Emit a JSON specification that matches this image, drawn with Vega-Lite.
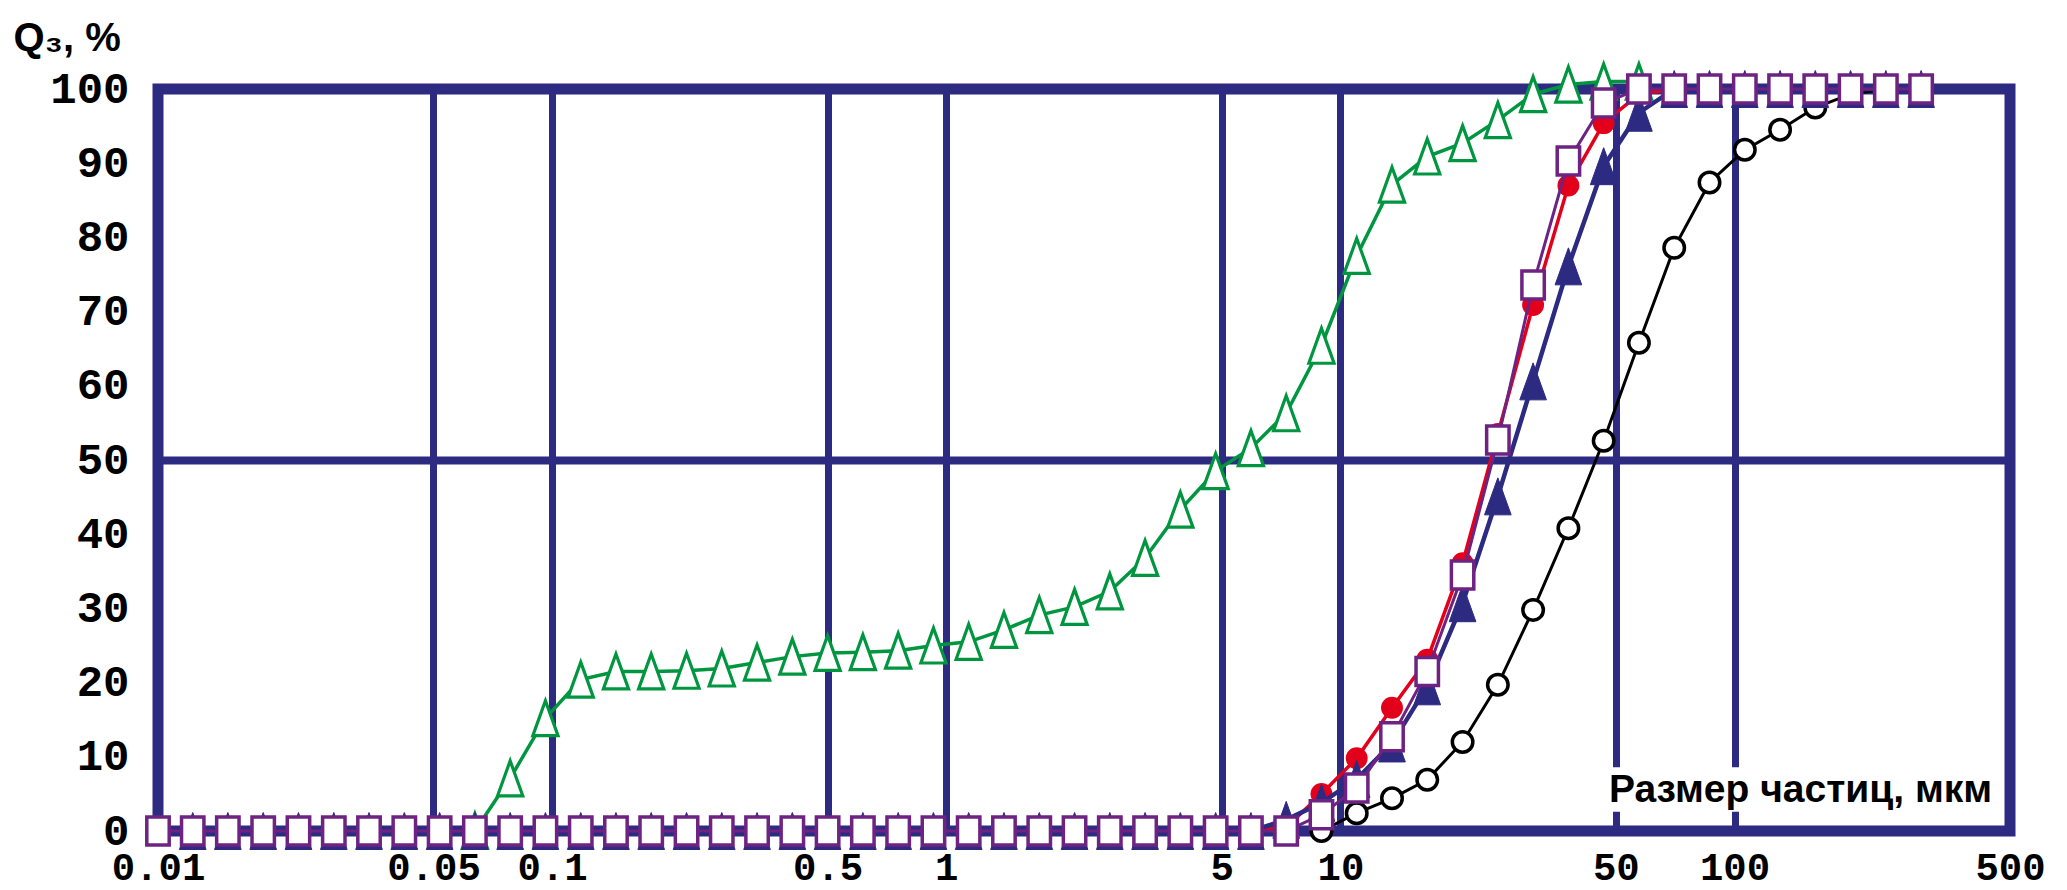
{
  "$schema": "https://vega.github.io/schema/vega-lite/v6.json",
  "width": 1852,
  "height": 742,
  "autosize": {"type": "none"},
  "padding": {"left": 158, "top": 89, "right": 57, "bottom": 59},
  "background": "white",
  "config": {"view": {"stroke": "#2d2a82", "strokeWidth": 11, "fill": "white"}},
  "data": {"values": [
    {"series":"A","d":0.06368,"q":0},{"series":"A","d":0.07826,"q":7.1},{"series":"A","d":0.09616,"q":15.2},{"series":"A","d":0.1182,"q":20.4},{"series":"A","d":0.1452,"q":21.5},{"series":"A","d":0.1784,"q":21.5},{"series":"A","d":0.2193,"q":21.6},{"series":"A","d":0.2694,"q":21.9},{"series":"A","d":0.3311,"q":22.7},{"series":"A","d":0.4069,"q":23.5},{"series":"A","d":0.5,"q":24.0},{"series":"A","d":0.6144,"q":24.1},{"series":"A","d":0.7551,"q":24.3},{"series":"A","d":0.9279,"q":25.0},{"series":"A","d":1.14,"q":25.5},{"series":"A","d":1.401,"q":27.1},{"series":"A","d":1.722,"q":29.1},{"series":"A","d":2.116,"q":30.2},{"series":"A","d":2.6,"q":32.3},{"series":"A","d":3.195,"q":36.8},{"series":"A","d":3.926,"q":43.3},{"series":"A","d":4.825,"q":48.5},{"series":"A","d":5.929,"q":51.6},{"series":"A","d":7.286,"q":56.3},{"series":"A","d":8.954,"q":65.4},{"series":"A","d":11.0,"q":77.5},{"series":"A","d":13.52,"q":87.1},{"series":"A","d":16.61,"q":90.9},{"series":"A","d":20.42,"q":92.7},{"series":"A","d":25.09,"q":95.8},{"series":"A","d":30.83,"q":99.3},{"series":"A","d":37.89,"q":100.6},{"series":"A","d":46.56,"q":101},{"series":"A","d":57.21,"q":101},
    {"series":"E","d":8.954,"q":0},{"series":"E","d":11.0,"q":2.4},{"series":"E","d":13.52,"q":4.4},{"series":"E","d":16.61,"q":6.9},{"series":"E","d":20.42,"q":12.0},{"series":"E","d":25.09,"q":19.7},{"series":"E","d":30.83,"q":29.8},{"series":"E","d":37.89,"q":40.8},{"series":"E","d":46.56,"q":52.6},{"series":"E","d":57.21,"q":65.8},{"series":"E","d":70.31,"q":78.6},{"series":"E","d":86.41,"q":87.4},{"series":"E","d":106.2,"q":91.8},{"series":"E","d":130.5,"q":94.5},{"series":"E","d":160.3,"q":97.5},{"series":"E","d":197.0,"q":99.3},{"series":"E","d":242.1,"q":100},{"series":"E","d":297.5,"q":100},
    {"series":"B","d":5.929,"q":0},{"series":"B","d":7.286,"q":0.5},{"series":"B","d":8.954,"q":5.0},{"series":"B","d":11.0,"q":9.8},{"series":"B","d":13.52,"q":16.6},{"series":"B","d":16.61,"q":23.1},{"series":"B","d":20.42,"q":36.1},{"series":"B","d":25.09,"q":53.5},{"series":"B","d":30.83,"q":70.9},{"series":"B","d":37.89,"q":87.0},{"series":"B","d":46.56,"q":95.4},{"series":"B","d":57.21,"q":99.3},{"series":"B","d":70.31,"q":100},{"series":"B","d":86.41,"q":100},
    {"series":"C","d":0.01225,"q":0},{"series":"C","d":0.01504,"q":0},{"series":"C","d":0.01849,"q":0},{"series":"C","d":0.02272,"q":0},{"series":"C","d":0.02793,"q":0},{"series":"C","d":0.03431,"q":0},{"series":"C","d":0.04217,"q":0},{"series":"C","d":0.05183,"q":0},{"series":"C","d":0.06368,"q":0},{"series":"C","d":0.07826,"q":0},{"series":"C","d":0.09616,"q":0},{"series":"C","d":0.1182,"q":0},{"series":"C","d":0.1452,"q":0},{"series":"C","d":0.1784,"q":0},{"series":"C","d":0.2193,"q":0},{"series":"C","d":0.2694,"q":0},{"series":"C","d":0.3311,"q":0},{"series":"C","d":0.4069,"q":0},{"series":"C","d":0.5,"q":0},{"series":"C","d":0.6144,"q":0},{"series":"C","d":0.7551,"q":0},{"series":"C","d":0.9279,"q":0},{"series":"C","d":1.14,"q":0},{"series":"C","d":1.401,"q":0},{"series":"C","d":1.722,"q":0},{"series":"C","d":2.116,"q":0},{"series":"C","d":2.6,"q":0},{"series":"C","d":3.195,"q":0},{"series":"C","d":3.926,"q":0},{"series":"C","d":4.825,"q":0},{"series":"C","d":5.929,"q":0},{"series":"C","d":7.286,"q":1.5},{"series":"C","d":8.954,"q":3.8},{"series":"C","d":11.0,"q":7.0},{"series":"C","d":13.52,"q":11.8},{"series":"C","d":16.61,"q":19.5},{"series":"C","d":20.42,"q":30.7},{"series":"C","d":25.09,"q":45.1},{"series":"C","d":30.83,"q":60.6},{"series":"C","d":37.89,"q":76.1},{"series":"C","d":46.56,"q":89.6},{"series":"C","d":57.21,"q":96.8},{"series":"C","d":70.31,"q":100},{"series":"C","d":86.41,"q":100},{"series":"C","d":106.2,"q":100},{"series":"C","d":130.5,"q":100},{"series":"C","d":160.3,"q":100},{"series":"C","d":197.0,"q":100},{"series":"C","d":242.1,"q":100},{"series":"C","d":297.5,"q":100},
    {"series":"D","d":0.01,"q":0},{"series":"D","d":0.01225,"q":0},{"series":"D","d":0.01504,"q":0},{"series":"D","d":0.01849,"q":0},{"series":"D","d":0.02272,"q":0},{"series":"D","d":0.02793,"q":0},{"series":"D","d":0.03431,"q":0},{"series":"D","d":0.04217,"q":0},{"series":"D","d":0.05183,"q":0},{"series":"D","d":0.06368,"q":0},{"series":"D","d":0.07826,"q":0},{"series":"D","d":0.09616,"q":0},{"series":"D","d":0.1182,"q":0},{"series":"D","d":0.1452,"q":0},{"series":"D","d":0.1784,"q":0},{"series":"D","d":0.2193,"q":0},{"series":"D","d":0.2694,"q":0},{"series":"D","d":0.3311,"q":0},{"series":"D","d":0.4069,"q":0},{"series":"D","d":0.5,"q":0},{"series":"D","d":0.6144,"q":0},{"series":"D","d":0.7551,"q":0},{"series":"D","d":0.9279,"q":0},{"series":"D","d":1.14,"q":0},{"series":"D","d":1.401,"q":0},{"series":"D","d":1.722,"q":0},{"series":"D","d":2.116,"q":0},{"series":"D","d":2.6,"q":0},{"series":"D","d":3.195,"q":0},{"series":"D","d":3.926,"q":0},{"series":"D","d":4.825,"q":0},{"series":"D","d":5.929,"q":0},{"series":"D","d":7.286,"q":0},{"series":"D","d":8.954,"q":2.2},{"series":"D","d":11.0,"q":5.8},{"series":"D","d":13.52,"q":12.7},{"series":"D","d":16.61,"q":21.5},{"series":"D","d":20.42,"q":34.5},{"series":"D","d":25.09,"q":52.7},{"series":"D","d":30.83,"q":73.6},{"series":"D","d":37.89,"q":90.3},{"series":"D","d":46.56,"q":98.1},{"series":"D","d":57.21,"q":100},{"series":"D","d":70.31,"q":100},{"series":"D","d":86.41,"q":100},{"series":"D","d":106.2,"q":100},{"series":"D","d":130.5,"q":100},{"series":"D","d":160.3,"q":100},{"series":"D","d":197.0,"q":100},{"series":"D","d":242.1,"q":100},{"series":"D","d":297.5,"q":100}
  ]},
  "encoding": {
    "x": {"field": "d", "type": "quantitative",
      "scale": {"type": "log", "domain": [0.01, 500], "nice": false},
      "axis": {"title": null,
        "values": [0.01, 0.05, 0.1, 0.5, 1, 5, 10, 50, 100, 500], "format": "~g",
        "labelFont": "Liberation Mono", "labelFontWeight": "bold", "labelFontSize": 39, "labelColor": "black",
        "labelPadding": 17, "labelDx": 10, "ticks": false, "tickSize": 0, "domain": false,
        "grid": true, "gridColor": "#2d2a82", "gridWidth": 7, "gridOpacity": 1,
        "labelFlush": false, "labelOverlap": false}},
    "y": {"field": "q", "type": "quantitative",
      "scale": {"domain": [0, 100], "nice": false, "zero": false},
      "axis": {"title": "Q₃, %", "titleAngle": 0, "titleAlign": "left", "titleBaseline": "alphabetic",
        "titleX": -145, "titleY": -39, "titleFont": "Liberation Sans", "titleFontSize": 40, "titleFontWeight": "bold", "titleColor": "black",
        "values": [0, 10, 20, 30, 40, 50, 60, 70, 80, 90, 100],
        "labelFont": "Liberation Mono", "labelFontWeight": "bold", "labelFontSize": 44, "labelColor": "black",
        "labelPadding": 29, "ticks": false, "tickSize": 0, "domain": false, "labelFlush": false, "labelOverlap": false,
        "grid": true, "gridColor": "#2d2a82", "gridWidth": 8,
        "gridOpacity": {"condition": {"test": "datum.value === 50", "value": 1}, "value": 0}}}
  },
  "layer": [
    {"transform": [{"filter": "datum.series === 'D' && datum.d === 297.5"}],
     "mark": {"type": "rect", "fill": "white", "stroke": null},
     "encoding": {"x": {"datum": 46, "type": "quantitative"}, "x2": {"datum": 480}, "y": {"datum": 2.6, "type": "quantitative"}, "y2": {"datum": 8.6}}},
    {"transform": [{"filter": "datum.series === 'A'"}],
     "mark": {"type": "line", "color": "#009640", "strokeWidth": 3.5,
       "point": {"shape": "M0,-1L0.72,1L-0.72,1Z", "size": 1225, "filled": true, "fill": "white", "stroke": "#009640", "strokeWidth": 3.2, "opacity": 1}}},
    {"transform": [{"filter": "datum.series === 'E'"}],
     "mark": {"type": "line", "color": "#000000", "strokeWidth": 3,
       "point": {"shape": "circle", "size": 420, "filled": true, "fill": "white", "stroke": "#000000", "strokeWidth": 3.5, "opacity": 1}}},
    {"transform": [{"filter": "datum.series === 'B'"}],
     "mark": {"type": "line", "color": "#e3001b", "strokeWidth": 3.5,
       "point": {"shape": "circle", "size": 480, "filled": true, "fill": "#e3001b", "opacity": 1}}},
    {"transform": [{"filter": "datum.series === 'C'"}],
     "mark": {"type": "line", "color": "#2d2a82", "strokeWidth": 4.5,
       "point": {"shape": "M0,-1L0.72,1L-0.72,1Z", "size": 1369, "filled": true, "fill": "#2d2a82", "stroke": "#2d2a82", "strokeWidth": 1, "opacity": 1}}},
    {"transform": [{"filter": "datum.series === 'D'"}],
     "mark": {"type": "line", "color": "#6e2382", "strokeWidth": 3,
       "point": {"shape": "M-0.8,-1L0.8,-1L0.8,1L-0.8,1Z", "size": 784, "filled": true, "fill": "white", "stroke": "#6e2382", "strokeWidth": 3.5, "opacity": 1}}},
    {"transform": [{"filter": "datum.series === 'D' && datum.d === 297.5"}],
     "mark": {"type": "text", "text": "Размер частиц, мкм", "align": "left", "baseline": "alphabetic", "font": "Liberation Sans", "fontWeight": "bold", "fontSize": 39, "color": "black"},
     "encoding": {"x": {"datum": 48, "type": "quantitative"}, "y": {"datum": 3.9, "type": "quantitative"}}}
  ]
}
